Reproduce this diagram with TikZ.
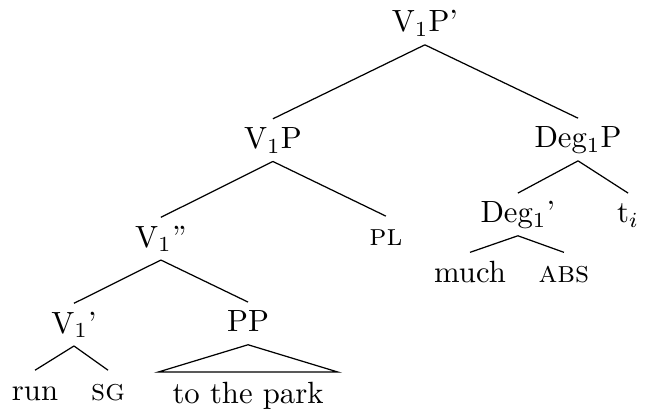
\documentclass[tikz,border=0pt]{standalone}
\usepackage{tikz}

\begin{document}
\begin{tikzpicture}[
    x=1pt, y=1pt,
    cat/.style={anchor=base, text height=7pt, text depth=1.5pt, inner xsep=0pt, inner ysep=2.5pt},
    roof/.style={cat, inner xsep=4.5pt, inner ysep=3pt},
    branch/.style={draw=black, line width=0.4pt}
]
\useasboundingbox (0,0) rectangle (210.1,-133.9);

% top of the tree
\node[cat] (vpp) at (138.4,-10.4) {V$_1$P'};

\node[cat] (vp) at (88.9,-48.4) {V$_1$P};
\node[cat] (degp) at (188.3,-48.2) {Deg$_1$P};

\draw[branch] (vpp.south) -- (vp.north);
\draw[branch] (vpp.south) -- (degp.north);

% left branch
\node[cat] (vbarb) at (52.4,-80.5) {V$_1$''};
\node[cat] (pl) at (125.7,-80.1) {\textsc{pl}};

\draw[branch] (vp.south) -- (vbarb.north);
\draw[branch] (vp.south) -- (pl.north);

\node[cat] (vbara) at (24.1,-108.5) {V$_1$'};
\node[cat] (pp) at (80.8,-108.1) {PP};

\draw[branch] (vbarb.south) -- (vbara.north);
\draw[branch] (vbarb.south) -- (pp.north);

\node[cat] (run) at (11.4,-130.3) {run};
\node[cat] (sg) at (35.2,-130.3) {\textsc{sg}};
\node[roof] (park) at (80.8,-131.4) {to the park};

\draw[branch] (vbara.south) -- (run.north);
\draw[branch] (vbara.south) -- (sg.north);
\draw[branch] (pp.south) -- (park.north west) -- (park.north east) -- cycle;

% right branch
\node[cat] (degbar) at (168.7,-72.6) {Deg$_1$'};
\node[cat] (trace) at (204.6,-72.6) {t$_i$};

\draw[branch] (degp.south) -- (degbar.north);
\draw[branch] (degp.south) -- (trace.north);

\node[cat] (much) at (153.1,-91.9) {much};
\node[cat] (abs) at (183.7,-91.9) {\textsc{abs}};

\draw[branch] (degbar.south) -- (much.north);
\draw[branch] (degbar.south) -- (abs.north);

\end{tikzpicture}
\end{document}
